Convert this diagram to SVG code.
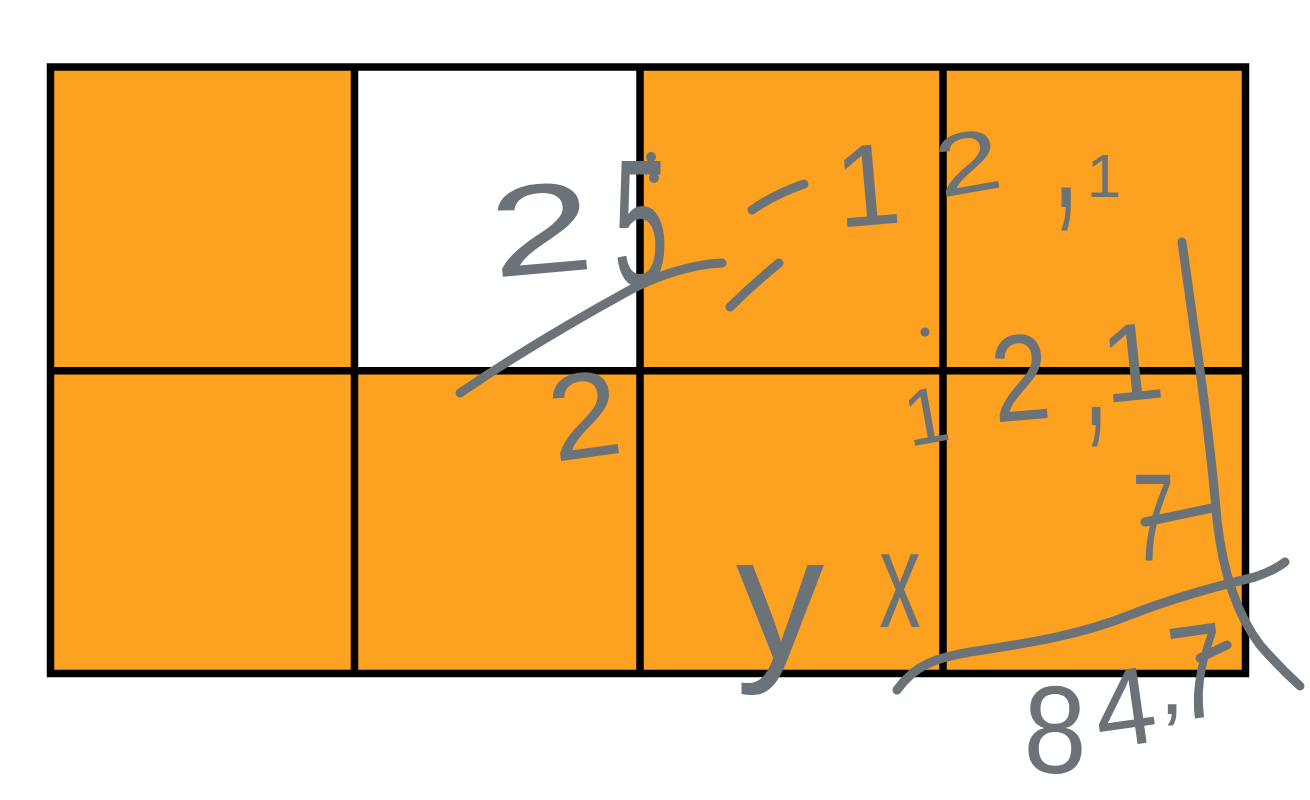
<svg xmlns="http://www.w3.org/2000/svg" width="1310" height="800" viewBox="0 0 1310 800">
  <style>
    .cell { fill: #FCA120; }
    .blank { fill: #FFFFFF; }
    .grid { fill: none; stroke: #000000; stroke-width: 7.5; }
    .ink { fill: none; stroke: #6C7378; stroke-width: 9; stroke-linecap: round; stroke-linejoin: round; }
    .dot { fill: #6C7378; }
    .hw { font-family: "Liberation Sans", Arial, sans-serif; fill: #6C7378; text-anchor: middle; }
  </style>
  <rect width="1310" height="800" fill="#FFFFFF"/>
  <g id="grid">
    <rect class="cell" x="50.5" y="67" width="1195" height="606.5"/>
    <rect class="blank" x="354.5" y="67" width="285.5" height="303.7"/>
    <rect class="grid" x="50.5" y="67" width="1195" height="606.5"/>
    <line class="grid" x1="354.5" y1="67" x2="354.5" y2="673.5"/>
    <line class="grid" x1="640" y1="67" x2="640" y2="673.5"/>
    <line class="grid" x1="943" y1="67" x2="943" y2="673.5"/>
    <line class="grid" x1="50.5" y1="370.7" x2="1245.5" y2="370.7"/>
  </g>
  <g id="strokes">
    <path class="ink" d="M460,393 C520,352 590,312 630,290 C660,274 695,264 722,263"/>
    <path class="ink" d="M752,210 Q775,194 804,184"/>
    <path class="ink" d="M779,263 Q752,285 730,307"/>
    <path class="ink" d="M1182,242 L1200,370 Q1212,460 1217,520 Q1226,600 1260,645 Q1280,668 1300,686"/>
    <path class="ink" d="M897,690 C915,665 935,658 970,652 C1030,643 1080,635 1130,615 C1180,595 1230,583 1255,577 C1270,572 1280,566 1285,562"/>
    <path class="ink" d="M1145,522 L1212,508"/>
    <path class="ink" d="M1200,658 L1227,645"/>
    <circle class="dot" cx="651" cy="157" r="5"/>
    <circle class="dot" cx="654" cy="178" r="5"/>
    <circle class="dot" cx="925" cy="332" r="4.5"/>
  </g>
  <g id="handwriting">
    <text class="hw" font-size="128" transform="translate(545,273) rotate(-5) scale(1.45,1)">2</text>
    <text class="hw" font-size="180" transform="translate(641,285) scale(0.55,1)">5</text>
    <text class="hw" font-size="122" transform="translate(590,457) rotate(-8) scale(1.05,1)">2</text>
    <text class="hw" font-size="116" transform="translate(871,225) rotate(-5)">1</text>
    <text class="hw" font-size="87" transform="translate(973,192) rotate(-10) scale(1.35,1)">2</text>
    <text class="hw" font-size="130" transform="translate(1066,207) scale(0.75,1.4)">,</text>
    <text class="hw" font-size="62" transform="translate(1104,197)">1</text>
    <text class="hw" font-size="123" transform="translate(1024,420) rotate(-5) scale(0.85,1)">2</text>
    <text class="hw" font-size="120" transform="translate(1096,425) scale(0.75,1.4)">,</text>
    <text class="hw" font-size="110" transform="translate(1136,400) rotate(-6)">1</text>
    <text class="hw" font-size="125" transform="translate(1153,560) scale(0.6,1)">7</text>
    <text class="hw" font-size="79" transform="translate(931,443) rotate(-10)">1</text>
    <text class="hw" font-size="177" transform="translate(780,658)">y</text>
    <text class="hw" font-size="138" transform="translate(900,627) scale(0.6,1)">x</text>
    <text class="hw" font-size="108" transform="translate(1055,773) scale(1.05,1.15)">8</text>
    <text class="hw" font-size="110" transform="translate(1130,745) rotate(-8)">4</text>
    <text class="hw" font-size="90" transform="translate(1172,714)">,</text>
    <text class="hw" font-size="134" transform="translate(1205,717) rotate(-8) scale(0.75,1)">7</text>
  </g>
</svg>
